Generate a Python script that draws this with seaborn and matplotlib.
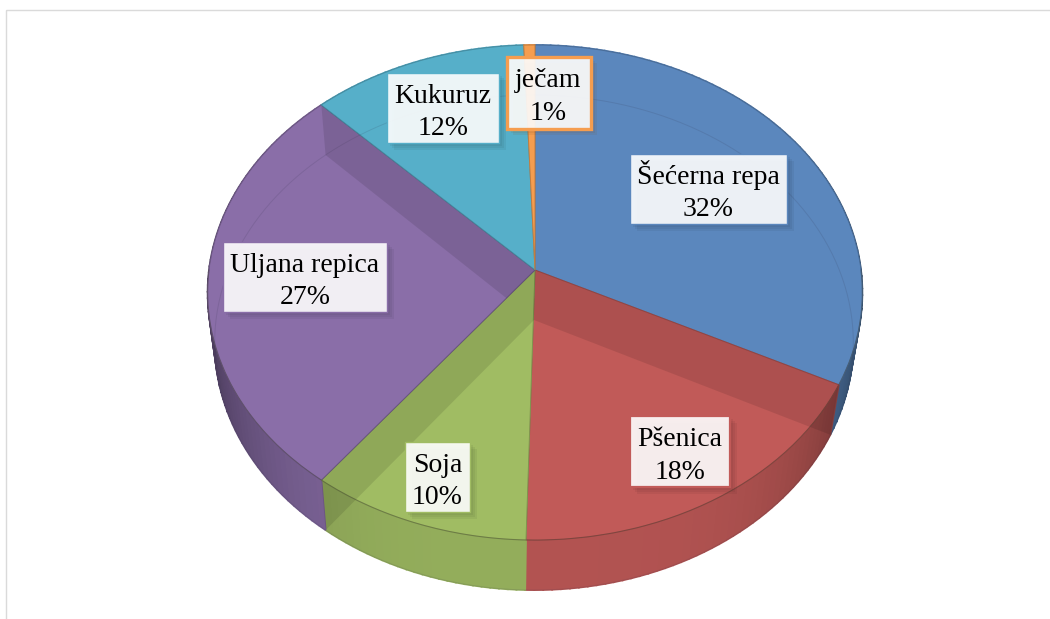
import numpy as np
import matplotlib
matplotlib.use('Agg')
import matplotlib.pyplot as plt
import matplotlib.patheffects as pe
from matplotlib.patches import Rectangle
from matplotlib.transforms import Transform
import seaborn as sns

# Data
crops = ['Šećerna repa', 'Pšenica', 'Soja', 'Uljana repica', 'Kukuruz', 'ječam']
shares = [32.4, 18.0, 10.0, 27.3, 11.7, 0.6]
crop_colors = ['#5B87BD', '#C15A58', '#A0BC63', '#8A6EA8', '#56AFC9', '#F59D4F']

# Label boxes in pixels
label_x = [708.5, 680, 437.5, 305, 443, 548.5]
label_y = [189, 451.5, 477, 277, 108, 92.5]
label_w = [157, 100, 65, 164, 112, 84]
label_h = [70, 71, 70, 70, 70, 72]
text_dy = [2, 4.5, 4.5, 4.5, 4.5, 4.5]


class Disc(Transform):
    """Maps the unit disc of the pie to a tilted ellipse in pixels."""
    input_dims = 2
    output_dims = 2

    def __init__(self, cx, cy, a, b=245.5, k=0.091):
        super().__init__()
        self.cx, self.cy, self.a, self.b, self.k = cx, cy, a, b, k

    def transform_non_affine(self, xy):
        xy = np.asarray(xy, dtype=float)
        w = 1 + self.k * xy[:, 1]
        return np.column_stack([self.cx + self.a * xy[:, 0] / w,
                                self.cy - self.b * xy[:, 1] / w])


def rim(angles):
    # angles run clockwise from the top, in degrees
    r = np.radians(angles)
    return np.column_stack([np.sin(r), np.cos(r)])


sns.set_theme(style='white')
plt.rcParams['font.family'] = ['Liberation Serif', 'DejaVu Serif']

palette = sns.color_palette(crop_colors)
top = Disc(535, 270, 326)
bottom = Disc(534, 320, 318)
ends = np.cumsum(shares) * 3.6
starts = np.r_[0, ends[:-1]]

fig, ax = plt.subplots(figsize=(10.5, 6.19), dpi=100)
fig.subplots_adjust(0, 0, 1, 1)

wedges, _ = ax.pie(shares, colors=palette, startangle=90, counterclock=False,
                   wedgeprops={'zorder': 3})
ax.set_aspect('auto')
ax.set_xlim(0, 1050)
ax.set_ylim(619, 0)
ax.axis('off')

for w, c in zip(wedges, palette):
    w.set_transform(top + ax.transData)
    w.set_edgecolor(np.array(c) * 0.8)
    w.set_linewidth(0.7)

# outer wall, darker towards the sides
for s, e, c in zip(starts, ends, palette):
    steps = np.linspace(s, e, int((e - s) / 1.5) + 2)
    for a0, a1 in zip(steps[:-1], steps[1:]):
        t = abs(np.sin(np.radians((a0 + a1) / 2))) ** 4
        shade = np.array(c) * (0.92 * (1 - t) + 0.55 * t)
        strip = rim(np.array([a0, a1]))
        pts = np.vstack([top.transform(strip), bottom.transform(strip[::-1])])
        ax.fill(pts[:, 0], pts[:, 1], color=shade, lw=1.3, zorder=2)

# faint far rim seen through the top
ring = bottom.transform(rim(np.linspace(0, 360, 361)))
ax.plot(ring[:, 0], ring[:, 1], color='#30304a', alpha=0.14, lw=0.7, zorder=4)
front = top.transform(rim(np.linspace(90, 270, 181)))
ax.plot(front[:, 0], front[:, 1], color='#404030', alpha=0.3, lw=0.8, zorder=5)

# inner side walls, lying in the slice below each cut
centre = np.zeros((1, 2))
for i, angle in [(3, ends[3]), (2, ends[2]), (1, ends[0])]:
    cut = rim(np.array([angle]))
    p = np.vstack([top.transform(centre), top.transform(cut),
                   bottom.transform(cut), bottom.transform(centre)])
    band = ax.fill(p[:, 0], p[:, 1], color='black', alpha=0.1, lw=0, zorder=4)[0]
    if i == 3:
        band.set_clip_path(wedges[3])

# labels
for name, share, x, y, bw, bh, dy, c in zip(crops, shares, label_x, label_y, label_w, label_h, text_dy, palette):
    lw = 2.4 if name == 'ječam' else (1.6 if name == 'Pšenica' else 1.0)
    box = Rectangle((x - bw / 2, y - bh / 2), bw, bh, fc=(1, 1, 1, 0.9), ec=c, lw=lw, zorder=6)
    dark = np.array(c) * 0.5
    box.set_path_effects([pe.SimplePatchShadow(offset=(o, -o), shadow_rgbFace=dark, alpha=0.1)
                          for o in (5, 3.5, 2)] + [pe.Normal()])
    ax.add_patch(box)
    ax.text(x, y + dy, f'{name}\n{share:.0f}%', ha='center', va='center', fontsize=20,
            color='black', linespacing=1.4, zorder=7)

# chart frame
ax.add_patch(Rectangle((6, 10), 1100, 700, fill=False, ec='#DADADA', lw=1, zorder=1))

fig.savefig('out.png', dpi=100)
